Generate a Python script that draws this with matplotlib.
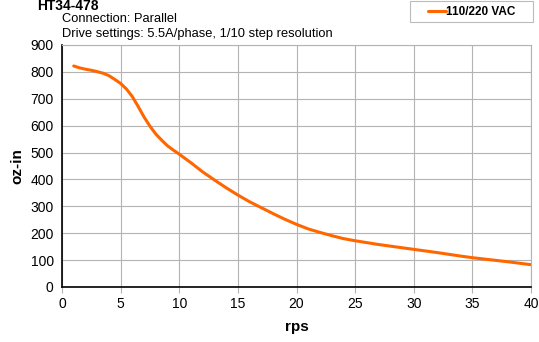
import matplotlib
matplotlib.use("Agg")
import matplotlib.pyplot as plt
from matplotlib.patches import Rectangle

plt.rcParams["font.family"] = ["Liberation Sans", "DejaVu Sans"]

# values
rps = [1, 1.5, 2, 2.5, 3, 3.5, 4, 4.5, 5, 5.5, 6, 6.5, 7, 7.5, 8, 8.5, 9, 9.5, 10,
       11, 12, 13, 14, 15, 16, 17, 18, 19, 20, 21, 22, 23, 24, 25, 26, 27, 28, 29, 30,
       32, 34, 35, 36, 38, 40]
torque = [822, 815, 810, 806, 801, 795, 786, 772, 757, 736, 708, 671, 632, 598, 569, 546, 525, 509, 494,
          462, 428, 398, 369, 342, 317, 295, 273, 252, 233, 216, 203, 191, 180, 172, 165, 158, 152, 146, 140,
          128, 115, 109, 104, 94, 83]

W, H = 539, 342
fig = plt.figure(figsize=(W / 100, H / 100), dpi=100)
ax = fig.add_axes([62 / W, 1 - 287 / H, (531 - 62) / W, (287 - 45) / H])

ax.plot(rps, torque, color="#ff6600", lw=2.2, label="110/220 VAC",
        solid_capstyle="round", solid_joinstyle="round")

ax.set_xlim(0, 40)
ax.set_ylim(0, 900)
ax.set_xticks(range(0, 41, 5))
ax.set_yticks(range(0, 901, 100))
ax.grid(True, color="#b3b3b3", lw=0.8)
ax.set_axisbelow(True)
for s in ("top", "right"):
    ax.spines[s].set_color("#b3b3b3")
    ax.spines[s].set_linewidth(0.8)
for s in ("left", "bottom"):
    ax.spines[s].set_color("black")
    ax.spines[s].set_linewidth(1.2)
ax.tick_params(axis="both", labelsize=10, length=4, color="#b3b3b3", direction="out")
ax.tick_params(axis="y", length=0, pad=6)

ax.set_xlabel("rps", fontsize=11, fontweight="bold", labelpad=6)
ax.set_ylabel("oz-in", fontsize=11, fontweight="bold", labelpad=4)

fig.text(37 / W, 1 - 6 / H, "HT34-478", fontsize=10, fontweight="bold", va="center")
fig.text(62 / W, 1 - 19 / H, "Connection: Parallel", fontsize=9.3, va="center")
fig.text(62 / W, 1 - 34 / H, "Drive settings: 5.5A/phase, 1/10 step resolution", fontsize=9.3, va="center")

# legend box, drawn separately so its padding matches the reference
fig.patches.append(Rectangle((410 / W, 1 - 22 / H), 123 / W, 21 / H, transform=fig.transFigure,
                             facecolor="white", edgecolor="#bbbbbb", lw=0.8))
leg = fig.legend(loc="center left", bbox_to_anchor=(428 / W, 1 - 12 / H),
                 frameon=False, handlelength=1.5, handletextpad=0.05,
                 borderpad=0, borderaxespad=0, prop={"weight": "bold", "size": 8.5})

fig.savefig("out.png", dpi=100)
